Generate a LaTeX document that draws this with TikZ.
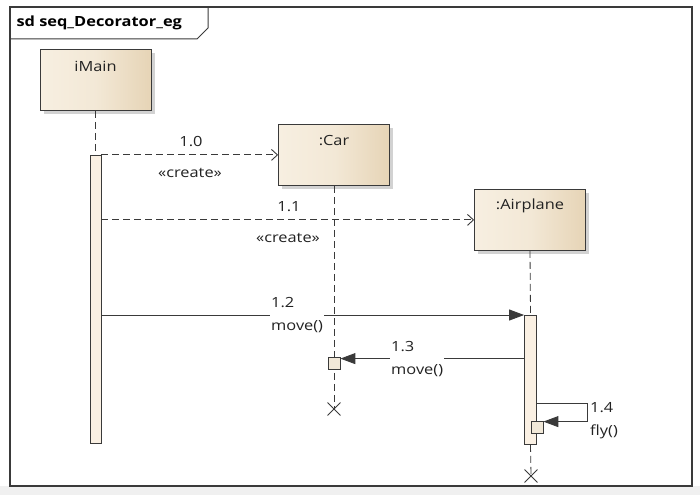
\documentclass[tikz,border=0pt]{standalone}
\usepackage{fontspec}
\setmainfont{Open Sans}[FakeStretch=1.17]
\usepackage{xcolor}
\usepackage{tikz}
\usetikzlibrary{calc,arrows.meta,shadows,shapes.misc}
\definecolor{txt}{HTML}{222222}
\definecolor{edge}{HTML}{3A3A3A}
\definecolor{boxl}{HTML}{F7EFE1}
\definecolor{boxr}{HTML}{E6D4B6}
\definecolor{actfill}{HTML}{FAF0E3}
\definecolor{execfill}{HTML}{F1E8D8}
\definecolor{strip}{HTML}{F0F0F0}
\tikzset{
  obj/.style={draw=edge, line width=0.8pt, left color=boxl, right color=boxr,
    middle color=boxl!75!boxr,
    minimum width=111pt, minimum height=61pt, anchor=north,
    drop shadow={shadow xshift=3.5pt, shadow yshift=-3.5pt, fill=black!35, opacity=.5}},
  objlab/.style={anchor=center, yshift=-17pt, font=\fontsize{14}{16}\selectfont, text=txt},
  act/.style={draw=edge, line width=0.8pt, fill=actfill, minimum width=11pt, inner sep=0pt, anchor=north},
  exec/.style={draw=edge, line width=0.8pt, fill=execfill, minimum size=12pt, inner sep=0pt},
  life/.style={draw=edge, dash pattern=on 7pt off 4pt, line width=0.8pt},
  create/.style={draw=edge, dash pattern=on 7pt off 4pt, line width=0.9pt,
    -{Straight Barb[length=6pt,width=11pt]}},
  sync/.style={draw=edge, line width=0.9pt, -{Triangle[length=15pt,width=11pt]}},
  kill/.style={draw=edge, cross out, minimum size=12pt, inner sep=0pt, line width=0.9pt},
  msglab/.style={font=\fontsize{14}{23}\selectfont, text=txt, align=left, inner sep=1pt}
}

\begin{document}
\begin{tikzpicture}[x=1pt,y=-1pt]
  \useasboundingbox (0,0) rectangle (700,495);
  \fill[strip] (0,486) rectangle (700,495);

  % frame and its name tab
  \draw[edge, line width=1.2pt] (10,7) rectangle (692,486);
  \draw[edge, line width=1pt] (10,39) -- (197,39) -- (208,28) -- (208,7);
  \node[anchor=west, text=black, font=\bfseries\fontsize{14}{16}\selectfont] (title) at (13,23) {sd seq\_Decorator\_eg};

  % lifeline heads
  \node[obj, label={[objlab]north:iMain}] (main) at (95.5,49) {};
  \node[obj, label={[objlab]north::Car}] (car) at (334,124) {};
  \node[obj, label={[objlab]north::Airplane}] (plane) at (530,189) {};

  % activations
  \node[act, minimum height=288pt] (mainbar) at (95.5,155) {};
  \node[act, minimum width=12pt, minimum height=129pt] (planebar) at (530.5,315) {};
  \node[kill] (carx) at (334,409) {};
  \node[kill] (planex) at (531,476) {};

  \draw[life] (main.south) -- (mainbar.north);
  \draw[life] (car.south) -- (carx.center);
  \draw[life] (plane.south) -- (planebar.north);
  \draw[life] (planebar.south) -- (planex.center);

  \node[exec] (carexec) at (334,363) {};
  \node[exec] (planeexec) at (537,427) {};

  % messages
  \draw[create] (mainbar.east |- car.west) -- (car.west);
  \draw[create] (mainbar.east |- plane.west) -- (plane.west);
  \draw[sync] (mainbar.east |- planebar.north) -- (planebar.north west);
  \coordinate (m13) at ($(carexec.north east)+(0,2)$);
  \draw[sync] (planebar.west |- m13) -- (m13);
  \coordinate (s14) at ($(planebar.north east)+(0,88)$);
  \coordinate (m14) at ($(planeexec.north east)+(0,1)$);
  \draw[sync] (s14) -- ++(51,0) |- (m14);

  \node[msglab] at (191,142) {1.0};
  \node[msglab] at (190,173) {«create»};
  \node[msglab] at (289,207) {1.1};
  \node[msglab] at (288,238) {«create»};
  \node[msglab, fill=white, right] at (270,315) {1.2\\move()};
  \node[msglab, fill=white, right] at (390,359) {1.3\\move()};
  \node[msglab, right] at (589,421) {1.4\\fly()};
\end{tikzpicture}
\end{document}
